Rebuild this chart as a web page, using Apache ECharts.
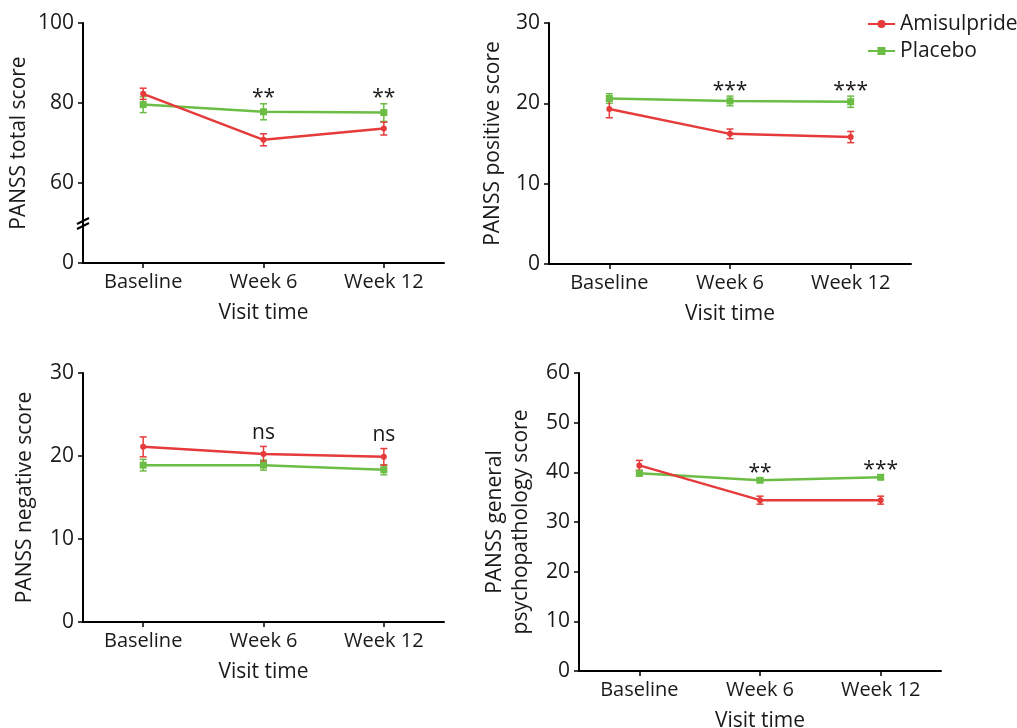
<!DOCTYPE html>
<html>
<head>
<meta charset="utf-8">
<script src="https://cdn.jsdelivr.net/npm/echarts@6/dist/echarts.min.js"></script>
<style>
html,body{margin:0;padding:0;background:#fff;}
#c{width:1017px;height:728px;}
</style>
</head>
<body>
<div id="c"></div>
<script>
// ---- data ----
const categories = ['Baseline', 'Week 6', 'Week 12'];

const totalAmi = [82.3, 70.8, 73.6];
const totalAmiErr = [1.4, 1.5, 1.6];
const totalPla = [79.6, 77.8, 77.6];
const totalPlaErr = [2.0, 2.0, 2.2];
const totalSig = ['', '**', '**'];

const posAmi = [19.3, 16.2, 15.8];
const posAmiErr = [1.1, 0.6, 0.7];
const posPla = [20.6, 20.3, 20.2];
const posPlaErr = [0.6, 0.6, 0.7];
const posSig = ['', '***', '***'];

const negAmi = [21.1, 20.25, 19.9];
const negAmiErr = [1.2, 0.9, 1.0];
const negPla = [18.9, 18.9, 18.35];
const negPlaErr = [0.7, 0.6, 0.6];
const negSig = ['', 'ns', 'ns'];

const genAmi = [41.4, 34.4, 34.4];
const genAmiErr = [1.0, 0.8, 0.8];
const genPla = [39.8, 38.4, 39.0];
const genPlaErr = [0.5, 0.4, 0.4];
const genSig = ['', '**', '***'];

const totalTicks = [0, 60, 80, 100]; // displayed labels on broken axis
const seriesNames = ['Amisulpride', 'Placebo'];

// ---- style ----
const RED = '#e53b3b';
const GREEN = '#6bbd45';
const FONT = 'Open Sans';
const TXT = '#1a1a1a';

const panels = [
  {ami: totalAmi, amiErr: totalAmiErr, pla: totalPla, plaErr: totalPlaErr, sig: totalSig,
   grid: {left: 83, top: 23, width: 361, height: 240},
   y: {min: 40, max: 100, interval: 20, name: 'PANSS total score', nameGap: 51,
       formatter: v => (v === 40 ? String(totalTicks[0]) : String(v))}},
  {ami: posAmi, amiErr: posAmiErr, pla: posPla, plaErr: posPlaErr, sig: posSig,
   grid: {left: 549, top: 23, width: 362, height: 241},
   y: {min: 0, max: 30, interval: 10, name: 'PANSS positive score', nameGap: 43}},
  {ami: negAmi, amiErr: negAmiErr, pla: negPla, plaErr: negPlaErr, sig: negSig,
   grid: {left: 83, top: 373, width: 361, height: 249},
   y: {min: 0, max: 30, interval: 10, name: 'PANSS negative score', nameGap: 45}},
  {ami: genAmi, amiErr: genAmiErr, pla: genPla, plaErr: genPlaErr, sig: genSig,
   grid: {left: 579, top: 373, width: 362, height: 298},
   y: {min: 0, max: 60, interval: 10, name: 'PANSS general\npsychopathology score', nameGap: 45}}
];

const grids = [], xAxes = [], yAxes = [], series = [];

function errSeries(idx, vals, errs, color, z) {
  return {
    type: 'custom', name: 'err' + idx + color, xAxisIndex: idx, yAxisIndex: idx, z: z,
    silent: true,
    data: vals.map((v, i) => [i, v, errs[i]]),
    renderItem: function (params, api) {
      const x = api.value(0), y = api.value(1), e = api.value(2);
      const top = api.coord([x, y + e]);
      const bot = api.coord([x, y - e]);
      const w = 3.5;
      const st = {stroke: color, lineWidth: 1.5};
      return {
        type: 'group',
        children: [
          {type: 'line', shape: {x1: top[0], y1: top[1], x2: bot[0], y2: bot[1]}, style: st},
          {type: 'line', shape: {x1: top[0] - w, y1: top[1], x2: top[0] + w, y2: top[1]}, style: st},
          {type: 'line', shape: {x1: bot[0] - w, y1: bot[1], x2: bot[0] + w, y2: bot[1]}, style: st}
        ]
      };
    }
  };
}

panels.forEach((p, idx) => {
  grids.push(Object.assign({containLabel: false, outerBoundsMode: 'none'}, p.grid));
  xAxes.push({
    type: 'category', gridIndex: idx, data: categories, boundaryGap: true,
    name: 'Visit time', nameLocation: 'middle', nameGap: 40,
    nameTextStyle: {fontFamily: FONT, fontSize: 21, color: TXT},
    axisLine: {show: true, lineStyle: {color: '#000', width: 2}},
    axisTick: {show: true, alignWithLabel: true, length: 5, lineStyle: {color: '#000', width: 1.5}},
    axisLabel: {fontFamily: FONT, fontSize: 20, color: TXT, margin: 9},
    splitLine: {show: false}
  });
  yAxes.push({
    type: 'value', gridIndex: idx, min: p.y.min, max: p.y.max, interval: p.y.interval,
    name: p.y.name, nameLocation: 'middle', nameGap: p.y.nameGap, nameRotate: 90,
    nameTextStyle: {fontFamily: FONT, fontSize: 21, color: TXT, lineHeight: 26},
    axisLine: {show: true, lineStyle: {color: '#000', width: 2}},
    axisTick: {show: true, length: 5, lineStyle: {color: '#000', width: 1.5}},
    axisLabel: {fontFamily: FONT, fontSize: 21, color: TXT, margin: 9,
                formatter: p.y.formatter || (v => String(v))},
    splitLine: {show: false}
  });

  series.push(errSeries(idx, p.pla, p.plaErr, GREEN, 3));
  series.push(errSeries(idx, p.ami, p.amiErr, RED, 4));
  series.push({
    type: 'line', name: seriesNames[1], xAxisIndex: idx, yAxisIndex: idx, data: p.pla,
    symbol: 'rect', symbolSize: 7, showSymbol: true, z: 5,
    lineStyle: {color: GREEN, width: 2.5}, itemStyle: {color: GREEN}, animation: false
  });
  series.push({
    type: 'line', name: seriesNames[0], xAxisIndex: idx, yAxisIndex: idx, data: p.ami,
    symbol: 'circle', symbolSize: 6, showSymbol: true, z: 6,
    lineStyle: {color: RED, width: 2.5}, itemStyle: {color: RED}, animation: false
  });
  // significance labels
  series.push({
    type: 'custom', name: 'sig' + idx, xAxisIndex: idx, yAxisIndex: idx, z: 7, silent: true,
    data: categories.map((c, i) => [i, Math.max(p.ami[i] + p.amiErr[i], p.pla[i] + p.plaErr[i])]),
    renderItem: function (params, api) {
      const s = p.sig[params.dataIndex];
      if (!s) return null;
      const pt = api.coord([api.value(0), api.value(1)]);
      const isStar = s.indexOf('*') >= 0;
      return {
        type: 'text',
        style: {
          text: s, x: pt[0], y: pt[1] + (isStar ? 5 : -3),
          align: 'center', verticalAlign: 'bottom',
          fontFamily: FONT, fontSize: 21, fill: TXT
        }
      };
    }
  });
});

// axis break marks on total score axis (drawn at value 50 on the compressed segment)
series.push({
  type: 'custom', name: 'break', xAxisIndex: 0, yAxisIndex: 0, z: 8, silent: true,
  data: [[0, 50]],
  renderItem: function (params, api) {
    const pt = api.coord([api.value(0), api.value(1)]);
    const ax = params.coordSys.x;
    const st = {stroke: '#000', lineWidth: 2};
    return {
      type: 'group',
      children: [
        {type: 'line', shape: {x1: ax - 6, y1: pt[1] + 1, x2: ax + 6, y2: pt[1] - 5}, style: st},
        {type: 'line', shape: {x1: ax - 6, y1: pt[1] + 6, x2: ax + 6, y2: pt[1]}, style: st}
      ]
    };
  }
});

const chart = echarts.init(document.getElementById('c'), null, {renderer: 'canvas'});
chart.setOption({
  animation: false,
  backgroundColor: '#fff',
  legend: {
    data: seriesNames, orient: 'vertical', left: 862, top: 8,
    itemWidth: 27, itemHeight: 10, itemGap: 5,
    textStyle: {fontFamily: FONT, fontSize: 21, color: TXT, lineHeight: 22}
  },
  grid: grids, xAxis: xAxes, yAxis: yAxes, series: series
});
</script>
</body>
</html>
